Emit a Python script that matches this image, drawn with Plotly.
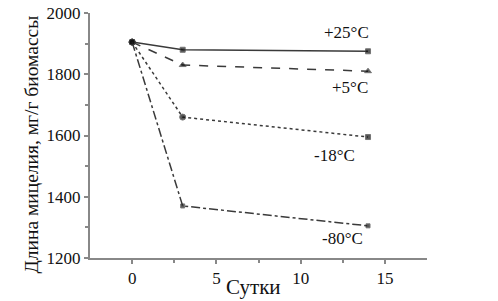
import plotly.graph_objects as go

days = [0, 3, 14]
t25 = [1905, 1880, 1875]
t5 = [1905, 1830, 1810]
tm18 = [1905, 1660, 1595]
tm80 = [1905, 1370, 1305]
labels = ["+25°C", "+5°C", "-18°C", "-80°C"]
label_x = [14.2, 14.1, 12.0, 12.5]
label_y = [1935, 1758, 1536, 1265]
label_anchor = ["right", "right", "center", "center"]

fig = go.Figure()
series = [
    (t25, "solid", ["circle", "square", "square"], [6, 5, 5]),
    (t5, "dash", ["circle", "triangle-up", "triangle-up"], [6, 6, 6]),
    (tm18, "dot", ["circle", "circle", "square"], [6, 6, 5]),
    (tm80, "dashdot", ["circle", "square", "square"], [6, 4, 4]),
]
for (vals, dash, syms, sizes), name in zip(series, labels):
    fig.add_trace(go.Scatter(
        x=days, y=vals, mode="lines+markers", name=name,
        line=dict(color="#3a3a3a", width=1.5, dash=dash),
        marker=dict(symbol=syms, size=sizes, color="#111"),
        showlegend=False))

font = dict(family="Liberation Serif, Times New Roman, serif", color="#111")
for x, y, txt, xa in zip(label_x, label_y, labels, label_anchor):
    fig.add_annotation(x=x, y=y, text=txt, showarrow=False, xanchor=xa, yanchor="middle",
                       font=dict(size=17, **font))

fig.add_annotation(xref="paper", yref="paper", x=(31 - 90) / 337, y=0.5 - 9 / 245,
                   text="Длина мицелия, мг/г биомассы",
                   textangle=-90, showarrow=False, xanchor="center", yanchor="middle",
                   font=dict(size=19.5, **font))
fig.add_annotation(xref="paper", yref="paper", x=(253 - 90) / 337, y=-29 / 245,
                   text="Сутки", showarrow=False, xanchor="center", yanchor="middle",
                   font=dict(size=21, **font))

axcol = "#888"
fig.update_layout(
    width=498, height=301,
    margin=dict(l=90, r=71, t=13, b=43),
    plot_bgcolor="white", paper_bgcolor="white",
    font=dict(size=17, **font),
    xaxis=dict(range=[-2.5, 17.5], tickvals=[0, 5, 10, 15], showgrid=False, zeroline=False,
               automargin=False,
               showline=True, linecolor=axcol, linewidth=2, ticks="outside", ticklen=4,
               tickcolor=axcol, tickwidth=1.5,
               minor=dict(tickvals=[2.5, 7.5, 12.5], ticks="outside", ticklen=3, tickcolor=axcol)),
    yaxis=dict(range=[1200, 2000], tickvals=[1200, 1400, 1600, 1800, 2000], showgrid=False,
               automargin=False,
               zeroline=False, showline=True, linecolor=axcol, linewidth=2, ticks="outside",
               ticklen=4, tickcolor=axcol, tickwidth=1.5,
               minor=dict(tickvals=[1300, 1500, 1700, 1900], ticks="outside", ticklen=3, tickcolor=axcol)),
)
fig.write_html("out.html", post_script="document.body.style.margin='0';",
               config={"displayModeBar": False})
